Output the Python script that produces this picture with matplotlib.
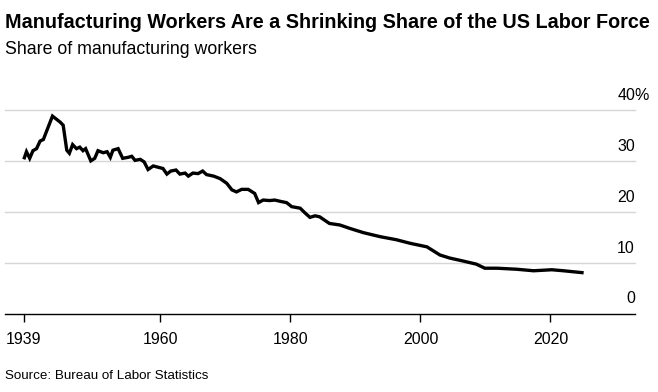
import numpy as np
import matplotlib
matplotlib.use('Agg')
import matplotlib.pyplot as plt

plt.rcParams['font.family'] = ['Liberation Sans', 'DejaVu Sans']

#==============================================================================
# Data
#==============================================================================
years = [1939.0, 1939.4, 1939.9, 1940.4, 1940.95, 1941.5, 1942.0, 1943.4,
         1944.6, 1945.05, 1945.6, 1946.0, 1946.5, 1947.1, 1947.6, 1948.1,
         1948.5, 1949.3, 1949.9, 1950.4, 1951.2, 1951.8, 1952.3, 1952.7,
         1953.5, 1954.2, 1955.05, 1955.6, 1956.1, 1956.9, 1957.5, 1958.1,
         1958.9, 1959.8, 1960.4, 1961.0, 1961.6, 1962.4, 1963.0, 1963.8,
         1964.3, 1965.0, 1965.8, 1966.5, 1967.1, 1968.2, 1969.2, 1970.2,
         1971.0, 1971.7, 1972.5, 1973.5, 1974.5, 1975.1, 1975.8, 1976.8,
         1977.6, 1978.6, 1979.4, 1980.2, 1981.5, 1982.3, 1983.0, 1983.8,
         1984.5, 1986.0, 1987.6, 1989.2, 1991.2, 1993.8, 1996.3, 1998.4,
         2001.0, 2003.0, 2004.5, 2006.6, 2008.6, 2009.9, 2011.8, 2014.8,
         2017.4, 2020.2, 2022.0, 2025.1]
share = [30.3, 31.8, 30.5, 32.0, 32.4, 33.9, 34.2, 38.8,
         37.6, 37.0, 32.1, 31.5, 33.2, 32.4, 32.7, 32.0,
         32.4, 30.0, 30.5, 32.0, 31.6, 31.8, 30.7, 32.1,
         32.4, 30.5, 30.7, 30.9, 30.1, 30.3, 29.8, 28.3,
         29.0, 28.7, 28.5, 27.4, 28.0, 28.2, 27.4, 27.6,
         27.0, 27.6, 27.5, 28.0, 27.3, 27.0, 26.5, 25.6,
         24.3, 23.9, 24.4, 24.4, 23.6, 21.8, 22.3, 22.2,
         22.3, 22.0, 21.8, 21.0, 20.7, 19.7, 18.9, 19.2,
         19.0, 17.7, 17.4, 16.7, 15.9, 15.1, 14.5, 13.8,
         13.1, 11.5, 10.9, 10.3, 9.7, 8.9, 8.9, 8.7,
         8.4, 8.6, 8.4, 8.0]

xtick_years = [1939, 1960, 1980, 2000, 2020]
ytick_vals = [0, 10, 20, 30, 40]

#==============================================================================
# Plot
#==============================================================================
W, H = 658, 392
fig = plt.figure(figsize=(W / 100, H / 100), dpi=100)
ax = fig.add_axes([5 / W, (H - 313.5) / H, 630 / W, (313.5 - 110) / H])

ax.plot(years, share, color='black', lw=2.4, solid_joinstyle='miter',
        solid_capstyle='butt', zorder=3)

ax.set_xlim(1936.1, 2033.0)
ax.set_ylim(0, 40)

for v in ytick_vals[1:]:
    ax.axhline(v, color='#d6d6d6', lw=1.0, zorder=1, clip_on=False)

for s in ['top', 'right', 'left']:
    ax.spines[s].set_visible(False)
ax.spines['bottom'].set_linewidth(1.0)
ax.spines['bottom'].set_color('black')

ax.set_yticks([])
ax.set_xticks(xtick_years)
ax.set_xticklabels([str(y) for y in xtick_years])
ax.tick_params(axis='x', length=6, width=1.0, pad=7, labelsize=11.5,
               colors='black')

# y labels sit above the gridlines, right side
for v in ytick_vals:
    ax.annotate(str(v), xy=(1, v), xycoords=('axes fraction', 'data'),
                xytext=(0, 10.5), textcoords='offset points',
                ha='right', va='center', fontsize=11.5)
ax.annotate('%', xy=(1, 40), xycoords=('axes fraction', 'data'),
            xytext=(-0.5, 10.5), textcoords='offset points',
            ha='left', va='center', fontsize=11.5)

fig.text(5 / W, 1 - 23 / H, 'Manufacturing Workers Are a Shrinking Share of the US Labor Force',
         fontsize=14.2, fontweight='bold', ha='left', va='center')
fig.text(5 / W, 1 - 50 / H, 'Share of manufacturing workers',
         fontsize=12.8, ha='left', va='center')
fig.text(5 / W, 1 - 376 / H, 'Source: Bureau of Labor Statistics',
         fontsize=9.6, ha='left', va='center')

fig.savefig('out.png', dpi=100)
